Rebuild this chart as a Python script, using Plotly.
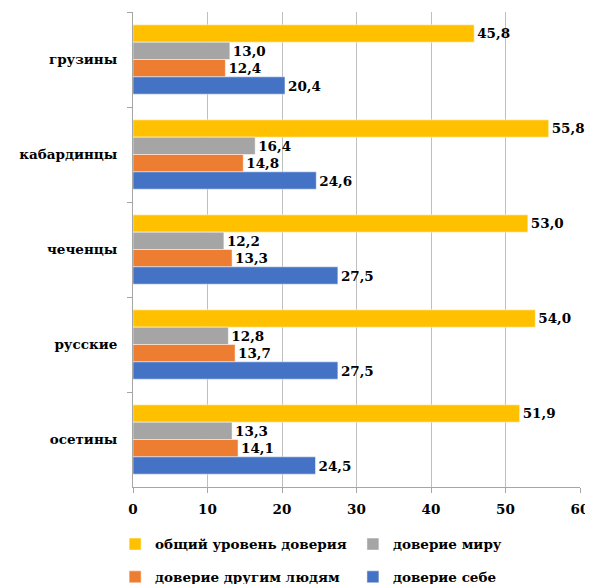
import plotly.graph_objects as go

categories = ["грузины", "кабардинцы", "чеченцы", "русские", "осетины"]
series_names = ["общий уровень доверия", "доверие миру", "доверие другим людям", "доверие себе"]
overall = [45.8, 55.8, 53.0, 54.0, 51.9]
world = [13.0, 16.4, 12.2, 12.8, 13.3]
others = [12.4, 14.8, 13.3, 13.7, 14.1]
self_trust = [20.4, 24.6, 27.5, 27.5, 24.5]
colors = ["#FFC000", "#A5A5A5", "#ED7D31", "#4472C4"]
x_ticks = [0, 10, 20, 30, 40, 50, 60]

FONT = "DejaVu Serif"
FS = 13.5
series = [overall, world, others, self_trust]
legend_ids = ["legend", "legend2", "legend3", "legend4"]
# legend placement (paper coords) for each entry
legend_pos = [(-0.04, -0.088), (0.492, -0.088), (-0.04, -0.157), (0.492, -0.157)]

fig = go.Figure()
for name, vals, col, lid in zip(series_names, series, colors, legend_ids):
    fig.add_trace(go.Bar(
        y=categories, x=vals, orientation="h", name=name, legend=lid,
        marker=dict(color=col, line=dict(color="white", width=0.5)),
        text=[f"{v:.1f}".replace(".", ",") for v in vals],
        textposition="outside", cliponaxis=False,
        textfont=dict(family=FONT, size=FS, color="black", weight="bold"),
    ))

layout_legends = {}
for lid, (lx, ly) in zip(legend_ids, legend_pos):
    layout_legends[lid] = dict(
        orientation="h", x=lx, xanchor="left", y=ly, yanchor="top",
        itemwidth=30, bgcolor="rgba(0,0,0,0)", visible=True,
        font=dict(family=FONT, size=FS, color="black", weight="bold"))

# page body has an 8px default margin, so the figure is sized to fit the window
fig.update_layout(
    width=585, height=576,
    margin=dict(l=125, r=13, t=4, b=97, autoexpand=False),
    plot_bgcolor="white", paper_bgcolor="white",
    barmode="group", bargap=0.27, bargroupgap=0,
    showlegend=True,
    font=dict(family=FONT, size=FS, color="black", weight="bold"),
    xaxis=dict(range=[0, 60], tickvals=x_ticks, showgrid=True, gridcolor="#BFBFBF",
               gridwidth=1, zeroline=False, showline=True, linecolor="#A6A6A6",
               ticks="outside", ticklen=5, tickcolor="#A6A6A6", automargin=False,
               ticklabelstandoff=5,
               tickfont=dict(family=FONT, size=FS, color="black", weight="bold")),
    yaxis=dict(categoryorder="array", categoryarray=categories, autorange="reversed",
               showline=True, linecolor="#A6A6A6", ticks="outside", ticklen=5,
               tickcolor="#A6A6A6", tickson="boundaries", ticklabelstandoff=12,
               showgrid=False, automargin=False,
               tickfont=dict(family=FONT, size=FS, color="black", weight="bold")),
    **layout_legends,
)
fig.write_html("out.html")
